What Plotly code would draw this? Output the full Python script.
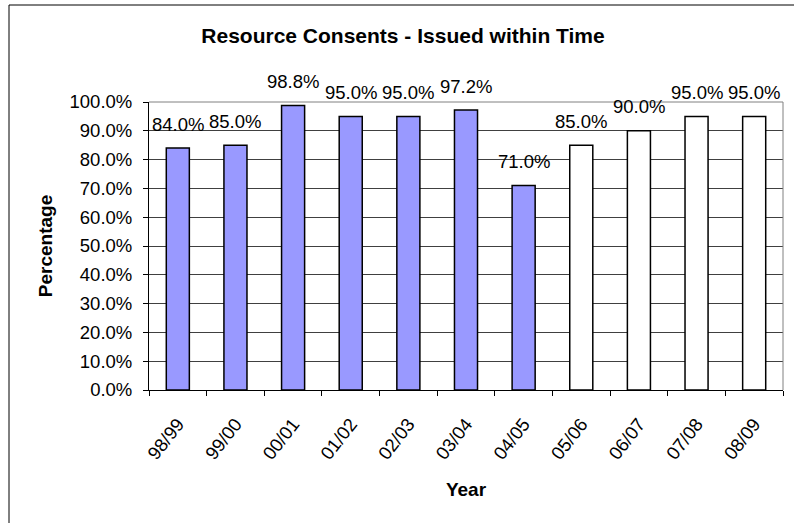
import plotly.graph_objects as go

years = ["98/99", "99/00", "00/01", "01/02", "02/03", "03/04", "04/05",
         "05/06", "06/07", "07/08", "08/09"]
values = [84.0, 85.0, 98.8, 95.0, 95.0, 97.2, 71.0, 85.0, 90.0, 95.0, 95.0]
actual_count = 7  # first 7 are actual (blue), remaining are targets (white)

FONT = "Arial, Liberation Sans, sans-serif"
colors = ["#9999FF" if i < actual_count else "#FFFFFF" for i in range(len(years))]

fig = go.Figure()
fig.add_trace(go.Bar(
    x=years, y=values,
    marker=dict(color=colors, line=dict(color="black", width=1.5)),
    width=0.4,
    hoverinfo="x+y",
))

for yr, v in zip(years, values):
    fig.add_annotation(x=yr, y=v, text=f"{v:.1f}%", showarrow=False,
                       yanchor="middle", yshift=24,
                       font=dict(family=FONT, size=18.5, color="black"))

L, R, T, B = 149, 11, 102, 133
W, H = 794, 523
pw, ph = W - L - R, H - T - B

fig.update_layout(
    width=W, height=H,
    margin=dict(l=L, r=R, t=T, b=B, pad=0),
    paper_bgcolor="white", plot_bgcolor="white",
    showlegend=False,
    title=dict(text="<b>Resource Consents - Issued within Time</b>",
               x=403 / W, xanchor="center", xref="container",
               y=1 - 36 / H, yanchor="middle", yref="container",
               font=dict(family=FONT, size=21, color="black")),
    font=dict(family=FONT, color="black"),
    bargap=0.6,
)

fig.update_xaxes(
    type="category", tickson="boundaries",
    showline=True, linecolor="black", linewidth=1,
    ticks="outside", ticklen=5, tickcolor="black", tickwidth=1,
    showgrid=False, tickangle=-52, ticklabelstandoff=15,
    tickfont=dict(family=FONT, size=18.5, color="black"),
    title=dict(text="<b>Year</b>", font=dict(family=FONT, size=19, color="black"), standoff=20),
)
fig.update_yaxes(
    range=[0, 100], dtick=10, tickformat=".1f", ticksuffix="%",
    showline=True, linecolor="black", linewidth=1,
    ticks="outside", ticklen=5, tickcolor="black", tickwidth=1,
    ticklabelstandoff=7,
    showgrid=True, gridcolor="#404040", gridwidth=1,
    zeroline=False,
    tickfont=dict(family=FONT, size=18.5, color="black"),
    title=dict(text="<b>Percentage</b>", font=dict(family=FONT, size=19, color="black"), standoff=11),
)

# plot-area border (top and right, gray)
fig.add_shape(type="line", xref="paper", yref="paper", x0=0, x1=1, y0=1, y1=1,
              line=dict(color="#808080", width=1))
fig.add_shape(type="line", xref="paper", yref="paper", x0=1, x1=1, y0=0, y1=1,
              line=dict(color="#808080", width=1))
# outer chart border
fig.add_shape(type="rect", xref="paper", yref="paper",
              x0=(9 - L) / pw, x1=(805 - L) / pw,
              y0=(H - B - 535) / ph, y1=(H - B - 5) / ph,
              line=dict(color="black", width=1), fillcolor="rgba(0,0,0,0)")

fig.write_html("out.html")
